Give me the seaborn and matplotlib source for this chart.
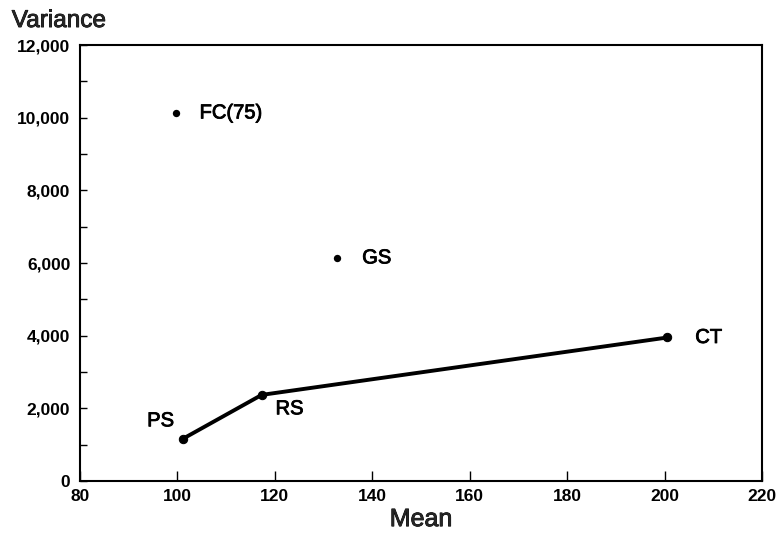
import matplotlib
matplotlib.use("Agg")
import matplotlib.pyplot as plt
import matplotlib.patheffects as pe
import seaborn as sns
import pandas as pd
from matplotlib.ticker import MultipleLocator, FuncFormatter

# Data
line_names = ["PS", "RS", "CT"]
line_mean = [101.1, 117.3, 200.6]
line_var = [1160, 2370, 3950]

point_names = ["FC(75)", "GS"]
point_mean = [99.7, 132.8]
point_var = [10130, 6140]

sns.set_style("ticks")
plt.rcParams["font.family"] = ["Liberation Sans", "DejaVu Sans"]

fig = plt.figure(figsize=(7.81, 5.41), dpi=100)
ax = fig.add_axes([80/781, 1-481/541, 682/781, 436/541])

line_df = pd.DataFrame({"Mean": line_mean, "Variance": line_var, "name": line_names})
pt_df = pd.DataFrame({"Mean": point_mean, "Variance": point_var, "name": point_names})

sns.lineplot(data=line_df, x="Mean", y="Variance", ax=ax, color="black",
             linewidth=2.8, marker="o", markersize=6, markeredgecolor="black",
             sort=False)
sns.scatterplot(data=pt_df, x="Mean", y="Variance", ax=ax, color="black",
                s=28, edgecolor="black", linewidth=0)

thick = [pe.withStroke(linewidth=0.6, foreground="black")]

# label offsets in points (dx, dy) and alignment
offsets = {
    "FC(75)": (17, 0, "left"),
    "GS": (18, 0, "left"),
    "CT": (20, 0, "left"),
    "PS": (-16, 13, "center"),
    "RS": (20, -10, "center"),
}
for df in (line_df, pt_df):
    for _, r in df.iterrows():
        dx, dy, ha = offsets[r["name"]]
        ax.annotate(r["name"], (r["Mean"], r["Variance"]), xytext=(dx, dy),
                    textcoords="offset points", ha=ha, va="center",
                    fontsize=14.5, color="black", path_effects=thick)

ax.set_xlim(80, 220)
ax.set_ylim(0, 12000)
ax.xaxis.set_major_locator(MultipleLocator(20))
ax.yaxis.set_major_locator(MultipleLocator(2000))
ax.yaxis.set_minor_locator(MultipleLocator(1000))
ax.yaxis.set_major_formatter(FuncFormatter(lambda v, p: f"{int(v):,}"))

ax.tick_params(axis="x", which="major", direction="in", length=7, width=1,
               labelsize=12.5, pad=6, colors="black")
ax.tick_params(axis="y", which="both", direction="in", length=5, width=1,
               labelsize=12.5, pad=7, colors="black")
for lab in ax.get_xticklabels() + ax.get_yticklabels():
    lab.set_fontweight("bold")

for s in ax.spines.values():
    s.set_visible(True)
    s.set_linewidth(1.5)
    s.set_color("black")

ax.set_xlabel("Mean", fontsize=18, labelpad=2, path_effects=thick)
ax.set_ylabel("Variance", fontsize=17.5, rotation=0, ha="left", va="center",
              path_effects=thick)
ax.yaxis.set_label_coords(-0.1, 1.055)

fig.savefig("out.png", dpi=100)
